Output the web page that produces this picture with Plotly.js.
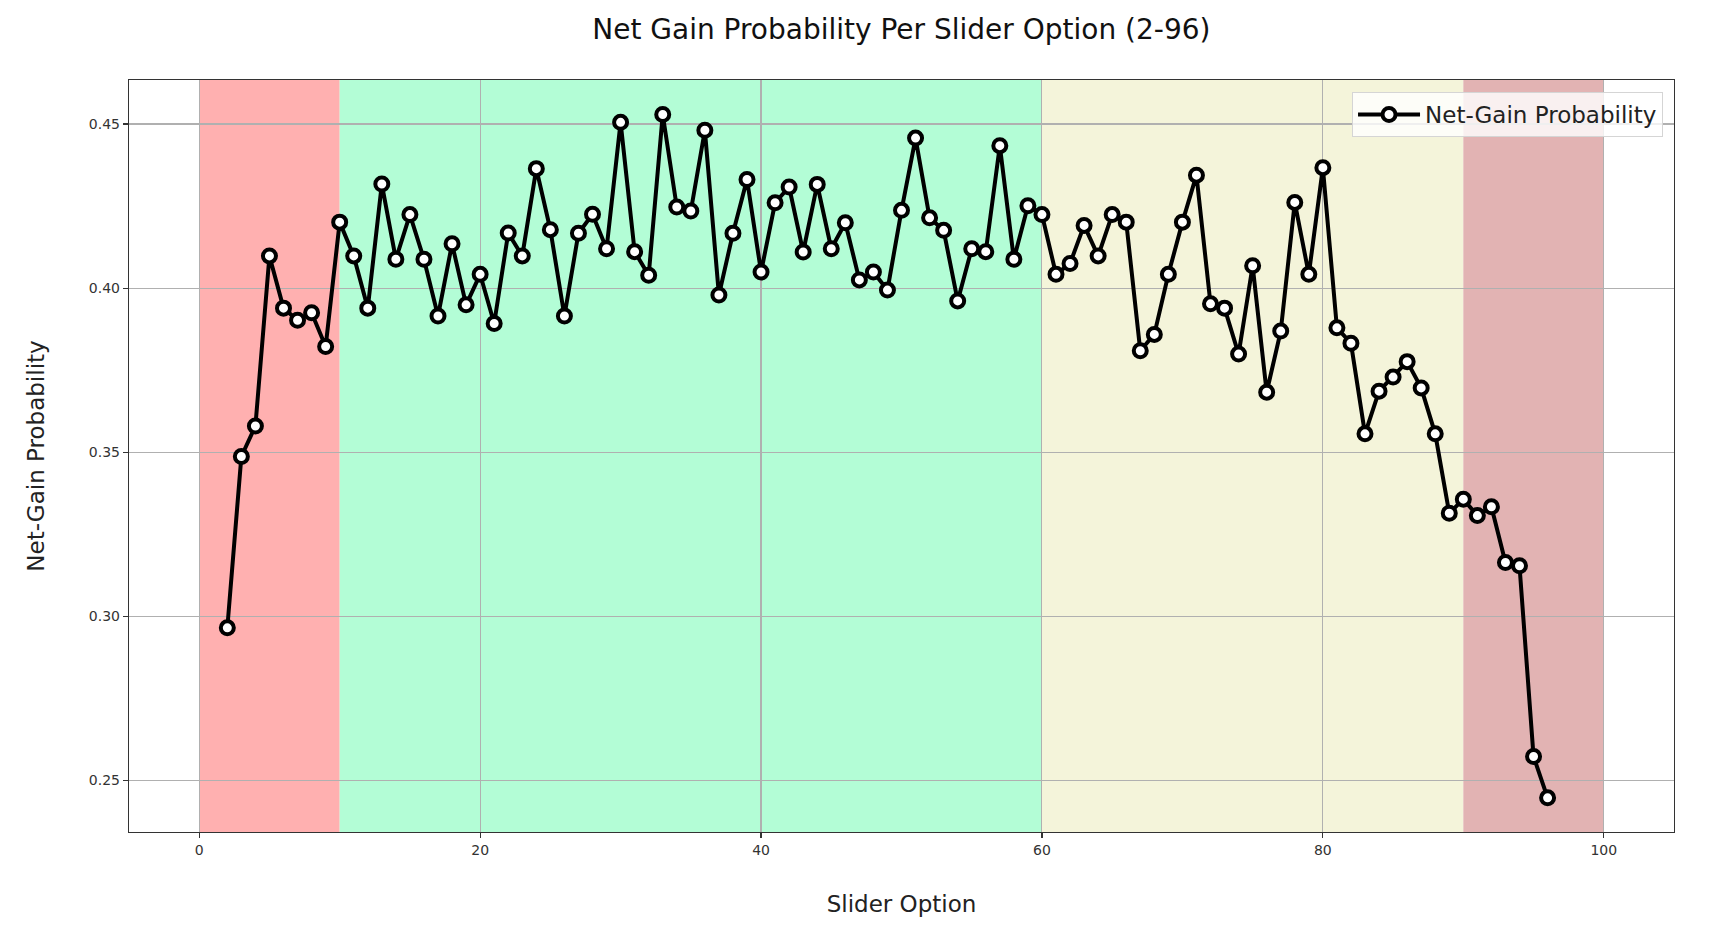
<!DOCTYPE html>
<html>
<head>
<meta charset="utf-8">
<script src="https://cdn.plot.ly/plotly-3.0.1.min.js"></script>
<style>html,body{margin:0;padding:0;background:#fff;}#chart{width:1712px;height:940px;}</style>
</head>
<body>
<div id="chart"></div>
<script>
// Slider options 2..96
const sliderOptions = [2,3,4,5,6,7,8,9,10,11,12,13,14,15,16,17,18,19,20,21,22,23,24,25,26,27,28,29,30,31,32,33,34,35,36,37,38,39,40,41,42,43,44,45,46,47,48,49,50,51,52,53,54,55,56,57,58,59,60,61,62,63,64,65,66,67,68,69,70,71,72,73,74,75,76,77,78,79,80,81,82,83,84,85,86,87,88,89,90,91,92,93,94,95,96];
const netGainProb = [
  0.2965,0.3487,0.3580,0.4098,0.3939,0.3902,0.3925,0.3822,0.4201,0.4098,
  0.3939,0.4317,0.4088,0.4224,0.4088,0.3915,0.4135,0.3949,0.4042,0.3892,
  0.4168,0.4098,0.4364,0.4178,0.3915,0.4167,0.4225,0.4120,0.4505,0.4111,
  0.4039,0.4529,0.4247,0.4235,0.4481,0.3979,0.4167,0.4331,0.4049,0.4260,
  0.4308,0.4110,0.4316,0.4120,0.4199,0.4025,0.4049,0.3994,0.4237,0.4457,
  0.4214,0.4176,0.3961,0.4120,0.4111,0.4434,0.4088,0.4251,0.4224,0.4042,
  0.4075,0.4191,0.4098,0.4224,0.4201,0.3809,0.3859,0.4042,0.4201,0.4344,
  0.3952,0.3939,0.3799,0.4068,0.3683,0.3869,0.4261,0.4042,0.4367,0.3879,
  0.3832,0.3556,0.3686,0.3729,0.3776,0.3696,0.3556,0.3314,0.3357,0.3307,
  0.3334,0.3164,0.3154,0.2573,0.2447
];
const seriesName = "Net-Gain Probability";
// Shaded zones: [start, end, colour]
const zoneStarts = [0, 10, 60, 90];
const zoneEnds = [10, 60, 90, 100];
const zoneColors = ["#ffb0b0", "#b3fdd6", "#f4f4da", "#e2b3b3"];
const xTicks = [0, 20, 40, 60, 80, 100];
const yTicks = [0.25, 0.30, 0.35, 0.40, 0.45];

const font = "DejaVu Sans, sans-serif";
const shapes = zoneStarts.map((s, i) => ({
  type: "rect", xref: "x", yref: "paper", x0: s, x1: zoneEnds[i], y0: 0, y1: 1,
  fillcolor: zoneColors[i], line: {width: 0}, layer: "below"
}));

const trace = {
  x: sliderOptions, y: netGainProb, name: seriesName,
  type: "scatter", mode: "lines+markers",
  line: {color: "#000", width: 4},
  marker: {size: 13, color: "#fff", line: {color: "#000", width: 4}},
  showlegend: true
};

const layout = {
  width: 1712, height: 940,
  margin: {l: 129, r: 38, t: 80, b: 108},
  paper_bgcolor: "#fff", plot_bgcolor: "rgba(0,0,0,0)",
  font: {family: font, color: "#222"},
  title: {text: "Net Gain Probability Per Slider Option (2-96)", font: {family: font, size: 28, color: "#111"},
          x: 0.5265, xanchor: "center", y: 1 - 29.5/940, yanchor: "middle", yref: "container"},
  xaxis: {
    range: [-5, 105], tickvals: xTicks, ticktext: xTicks.map(String),
    showgrid: true, gridcolor: "#b0b0b0", gridwidth: 1.1, zeroline: false,
    showline: true, mirror: true, linecolor: "#333", linewidth: 1.2,
    ticks: "outside", ticklen: 5, tickcolor: "#333", tickwidth: 1.2,
    tickfont: {family: font, size: 14, color: "#333"},
    title: {text: "Slider Option", font: {family: font, size: 23, color: "#222"}, standoff: 38},
    automargin: false
  },
  yaxis: {
    range: [0.2343, 0.4634], tickvals: yTicks, ticktext: yTicks.map(v => v.toFixed(2)),
    showgrid: true, gridcolor: "#b0b0b0", gridwidth: 1.1, zeroline: false,
    showline: true, mirror: true, linecolor: "#333", linewidth: 1.2,
    ticks: "outside", ticklen: 5, tickcolor: "#333", tickwidth: 1.2,
    tickfont: {family: font, size: 14, color: "#333"},
    title: {text: "Net-Gain Probability", font: {family: font, size: 23, color: "#222"}, standoff: 37},
    automargin: false
  },
  legend: {
    x: 0.9929, xanchor: "right", y: 0.984, yanchor: "top",
    bgcolor: "rgba(255,255,255,0.8)", bordercolor: "#d5d5d5", borderwidth: 1,
    font: {family: font, size: 23, color: "#222"}, itemwidth: 62
  },
  shapes: shapes
};

Plotly.newPlot("chart", [trace], layout, {staticPlot: true, displayModeBar: false});
</script>
</body>
</html>
